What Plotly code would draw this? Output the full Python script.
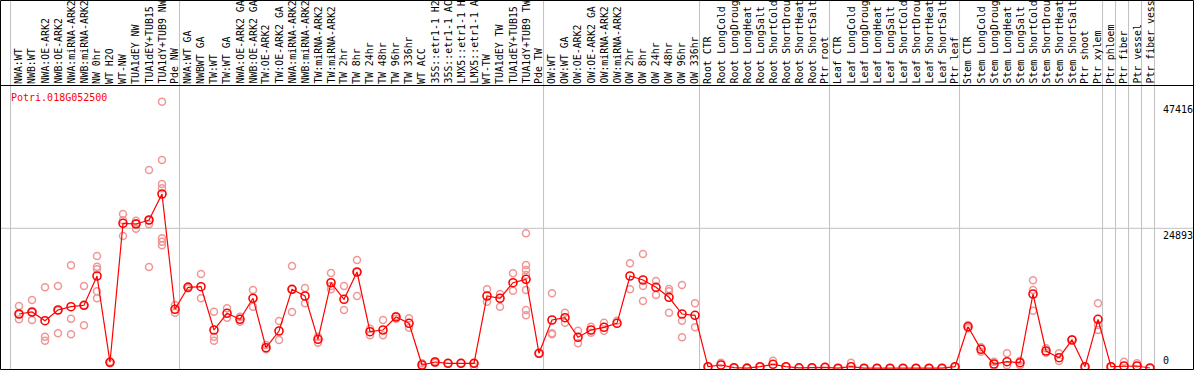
import plotly.graph_objects as go

gene = "Potri.018G052500"

samples = [
    "NWA:WT", "NWB:WT", "NWA:OE-ARK2", "NWB:OE-ARK2", "NWA:miRNA-ARK2", "NWB:miRNA-ARK2",
    "NW 0hr", "WT H2O", "WT-NW", "TUA1dEY NW", "TUA1dEY+TUB15", "TUA1dY+TUB9 NW", "Pde NW",
    "NWA:WT GA", "NWBWT GA", "TW:WT", "TW:WT GA", "NWA:OE-ARK2 GA", "NWB:OE-ARK2 GA",
    "TW:OE-ARK2", "TW:OE-ARK2 GA", "NWA:miRNA-ARK2", "NWB:miRNA-ARK2", "TW:miRNA-ARK2",
    "TW:miRNA-ARK2", "TW 2hr", "TW 8hr", "TW 24hr", "TW 48hr", "TW 96hr", "TW 336hr",
    "WT ACC", "35S::etr1-1 H2", "35S::etr1-1 AC", "LMX5::etr1-1 H", "LMX5::etr1-1 A",
    "WT-TW", "TUA1dEY TW", "TUA1dEY+TUB15", "TUA1dY+TUB9 TW", "Pde TW",
    "OW:WT", "OW:WT GA", "OW:OE-ARK2", "OW:OE-ARK2 GA", "OW:miRNA-ARK2", "OW:miRNA-ARK2",
    "OW 2hr", "OW 8hr", "OW 24hr", "OW 48hr", "OW 96hr", "OW 336hr",
    "Root CTR", "Root LongCold", "Root LongDroug", "Root LongHeat", "Root LongSalt",
    "Root ShortCold", "Root ShortDrou", "Root ShortHeat", "Root ShortSalt", "Ptr root",
    "Leaf CTR", "Leaf LongCold", "Leaf LongDroug", "Leaf LongHeat", "Leaf LongSalt",
    "Leaf ShortCold", "Leaf ShortDrou", "Leaf ShortHeat", "Leaf ShortSalt", "Ptr leaf",
    "Stem CTR", "Stem LongCold", "Stem LongDroug", "Stem LongHeat", "Stem LongSalt",
    "Stem ShortCold", "Stem ShortDrou", "Stem ShortHeat", "Stem ShortSalt", "Ptr shoot",
    "Ptr xylem", "Ptr phloem", "Ptr fiber", "Ptr vessel", "Ptr fiber vess",
]

mean_values = [
    9655, 10011, 8464, 10366, 10953, 11202, 16412, 1067, 25782, 25658, 26369, 30992, 10491,
    14403, 14509, 6810, 9780, 8713, 12447, 3663, 6632, 14047, 12856, 5156, 15221, 12269,
    17123, 6508, 6810, 9122, 8001, 587, 1120, 889, 889, 889, 12856, 12447, 15221, 15825, 2667,
    8588, 8997, 5512, 6810, 7290, 8001, 16412, 15701, 14403, 12625, 9655, 9424,
    284, 587, 107, 30, 284, 711, 284, 89, 107, 178,
    20, 284, 20, 20, 20, 20, 20, 20, 20, 284,
    7397, 3378, 765, 1174, 996, 13211, 3076, 1885, 5032, 284,
    8713, 284, 409, 409, 53,
]

replicate_values = [
    [11077, 8713, 9602], [12144, 8588, 9957], [14403, 5619, 4908], [14634, 6223, 10313],
    [18314, 8819, 6046], [14634, 7646, 11202], [19968, 18066, 17603, 13691, 12447],
    [1156, 889], [27436, 23524, 26316], [26245, 24822, 25782], [35260, 25605, 18012, 26316],
    [47416, 37038, 32770, 32006, 23115, 22511, 21871], [11255, 9886],
    [14580, 14225], [16767, 12447], [10064, 5619, 4908], [10669, 8997], [9175, 8286],
    [13922, 10953], [4143, 3378], [8410, 5032], [18190, 10011, 14047], [14278, 11558],
    [5619, 4552], [16945, 14634, 14047], [14634, 10366], [19257, 12856, 17123],
    [7041, 5868], [8588, 5868], [9300, 8800], [8891, 7219], [284, 889], [1245, 978],
    [889], [889], [284, 889], [14047, 11842], [13211, 10953], [16892, 13798],
    [24004, 18367, 17478, 16590, 13922, 10366, 9424], [2667],
    [13336, 6223, 6046], [9886, 8108], [6686, 4445], [7397, 6330], [8108, 6686], [8464],
    [18670, 14047], [20324, 14634, 11967], [15523, 13034], [14101, 13691, 9886],
    [14812, 8464, 5512], [11558, 7290],
    [284], [996], [107], [30], [284], [1351], [284], [89], [107], [178],
    [20], [996], [20], [20], [20], [20], [20], [20], [20], [284],
    [7699, 7112], [3734, 2952], [1174, 409], [2667, 533], [1351, 533],
    [15647, 13922, 10242], [3556, 2774], [2667, 1298], [5156], [284],
    [11558, 7699, 6810], [284], [1174], [889], [53],
]

group_starts = [0, 13, 41, 53, 63, 73, 84, 85, 86, 87, 88]
y_ticks = [47416, 24893, 0]
grid_y = 24893

W, H = 1194, 370
TOP = 86
PLOT_H = H - TOP
X_MIN, X_MAX = -19 / 13, -19 / 13 + W / 13
Y_MIN, Y_MAX = -302, 50196
MONO = "DejaVu Sans Mono"

idx = list(range(len(samples)))
rep_x, rep_y = [], []
for i, reps in enumerate(replicate_values):
    rep_x += [i] * len(reps)
    rep_y += reps

fig = go.Figure()
fig.add_trace(go.Scatter(
    x=rep_x, y=rep_y, mode="markers",
    marker=dict(symbol="circle-open", size=7, color="rgb(240,150,150)", line=dict(width=1.5)),
    showlegend=False, hoverinfo="skip",
))
fig.add_trace(go.Scatter(
    x=idx, y=mean_values, mode="lines+markers",
    line=dict(color="#ff0000", width=1.2),
    marker=dict(symbol="circle-open", size=8, color="#ff0000", line=dict(width=1.6)),
    showlegend=False, text=samples,
))


def px_to_paper_y(p):
    return (H - p) / PLOT_H


def data_to_paper_x(v):
    return (v - X_MIN) / (X_MAX - X_MIN)


shapes = []
# vertical group separators (through label area)
for g in group_starts:
    xp = data_to_paper_x(g - 0.65)
    shapes.append(dict(type="line", xref="paper", yref="paper", x0=xp, x1=xp,
                       y0=0, y1=px_to_paper_y(0), line=dict(color="#c0c0c0", width=1),
                       layer="below"))
# horizontal grid line
shapes.append(dict(type="line", xref="paper", yref="y", x0=0, x1=1, y0=grid_y, y1=grid_y,
                   line=dict(color="#c0c0c0", width=1), layer="below"))
# frame
shapes.append(dict(type="rect", xref="paper", yref="paper",
                   x0=0.5 / W, x1=(W - 0.5) / W, y0=px_to_paper_y(H - 0.5), y1=px_to_paper_y(0.5),
                   line=dict(color="black", width=1)))
shapes.append(dict(type="line", xref="paper", yref="paper", x0=0, x1=1,
                   y0=px_to_paper_y(TOP - 0.5), y1=px_to_paper_y(TOP - 0.5),
                   line=dict(color="black", width=1)))

annotations = []
for i, s in enumerate(samples):
    annotations.append(dict(
        x=i, xref="x", y=px_to_paper_y(85), yref="paper", text=s, textangle=-90,
        xanchor="center", yanchor="bottom", showarrow=False, borderpad=0,
        font=dict(family=MONO, size=9.9, color="black"),
    ))
annotations.append(dict(
    x=9 / W, xref="paper", y=px_to_paper_y(90), yref="paper", text=gene,
    xanchor="left", yanchor="top", showarrow=False,
    font=dict(family=MONO, size=10, color="#ff0000"),
))
for v in y_ticks:
    annotations.append(dict(
        x=1161 / W, xref="paper", y=v, yref="y", text=str(v),
        xanchor="left", yanchor="bottom" if v == 0 else "top", showarrow=False,
        font=dict(family=MONO, size=10, color="black"),
    ))

fig.update_layout(
    width=W, height=H,
    margin=dict(l=0, r=0, t=TOP, b=0, pad=0),
    paper_bgcolor="white", plot_bgcolor="white",
    xaxis=dict(range=[X_MIN, X_MAX], visible=False, fixedrange=True),
    yaxis=dict(range=[Y_MIN, Y_MAX], visible=False, fixedrange=True),
    shapes=shapes, annotations=annotations,
    showlegend=False,
)

fig.write_html(
    "out.html",
    config={"displayModeBar": False},
    post_script="document.body.style.margin='0';document.body.style.padding='0';"
                "document.body.style.overflow='hidden';",
)
